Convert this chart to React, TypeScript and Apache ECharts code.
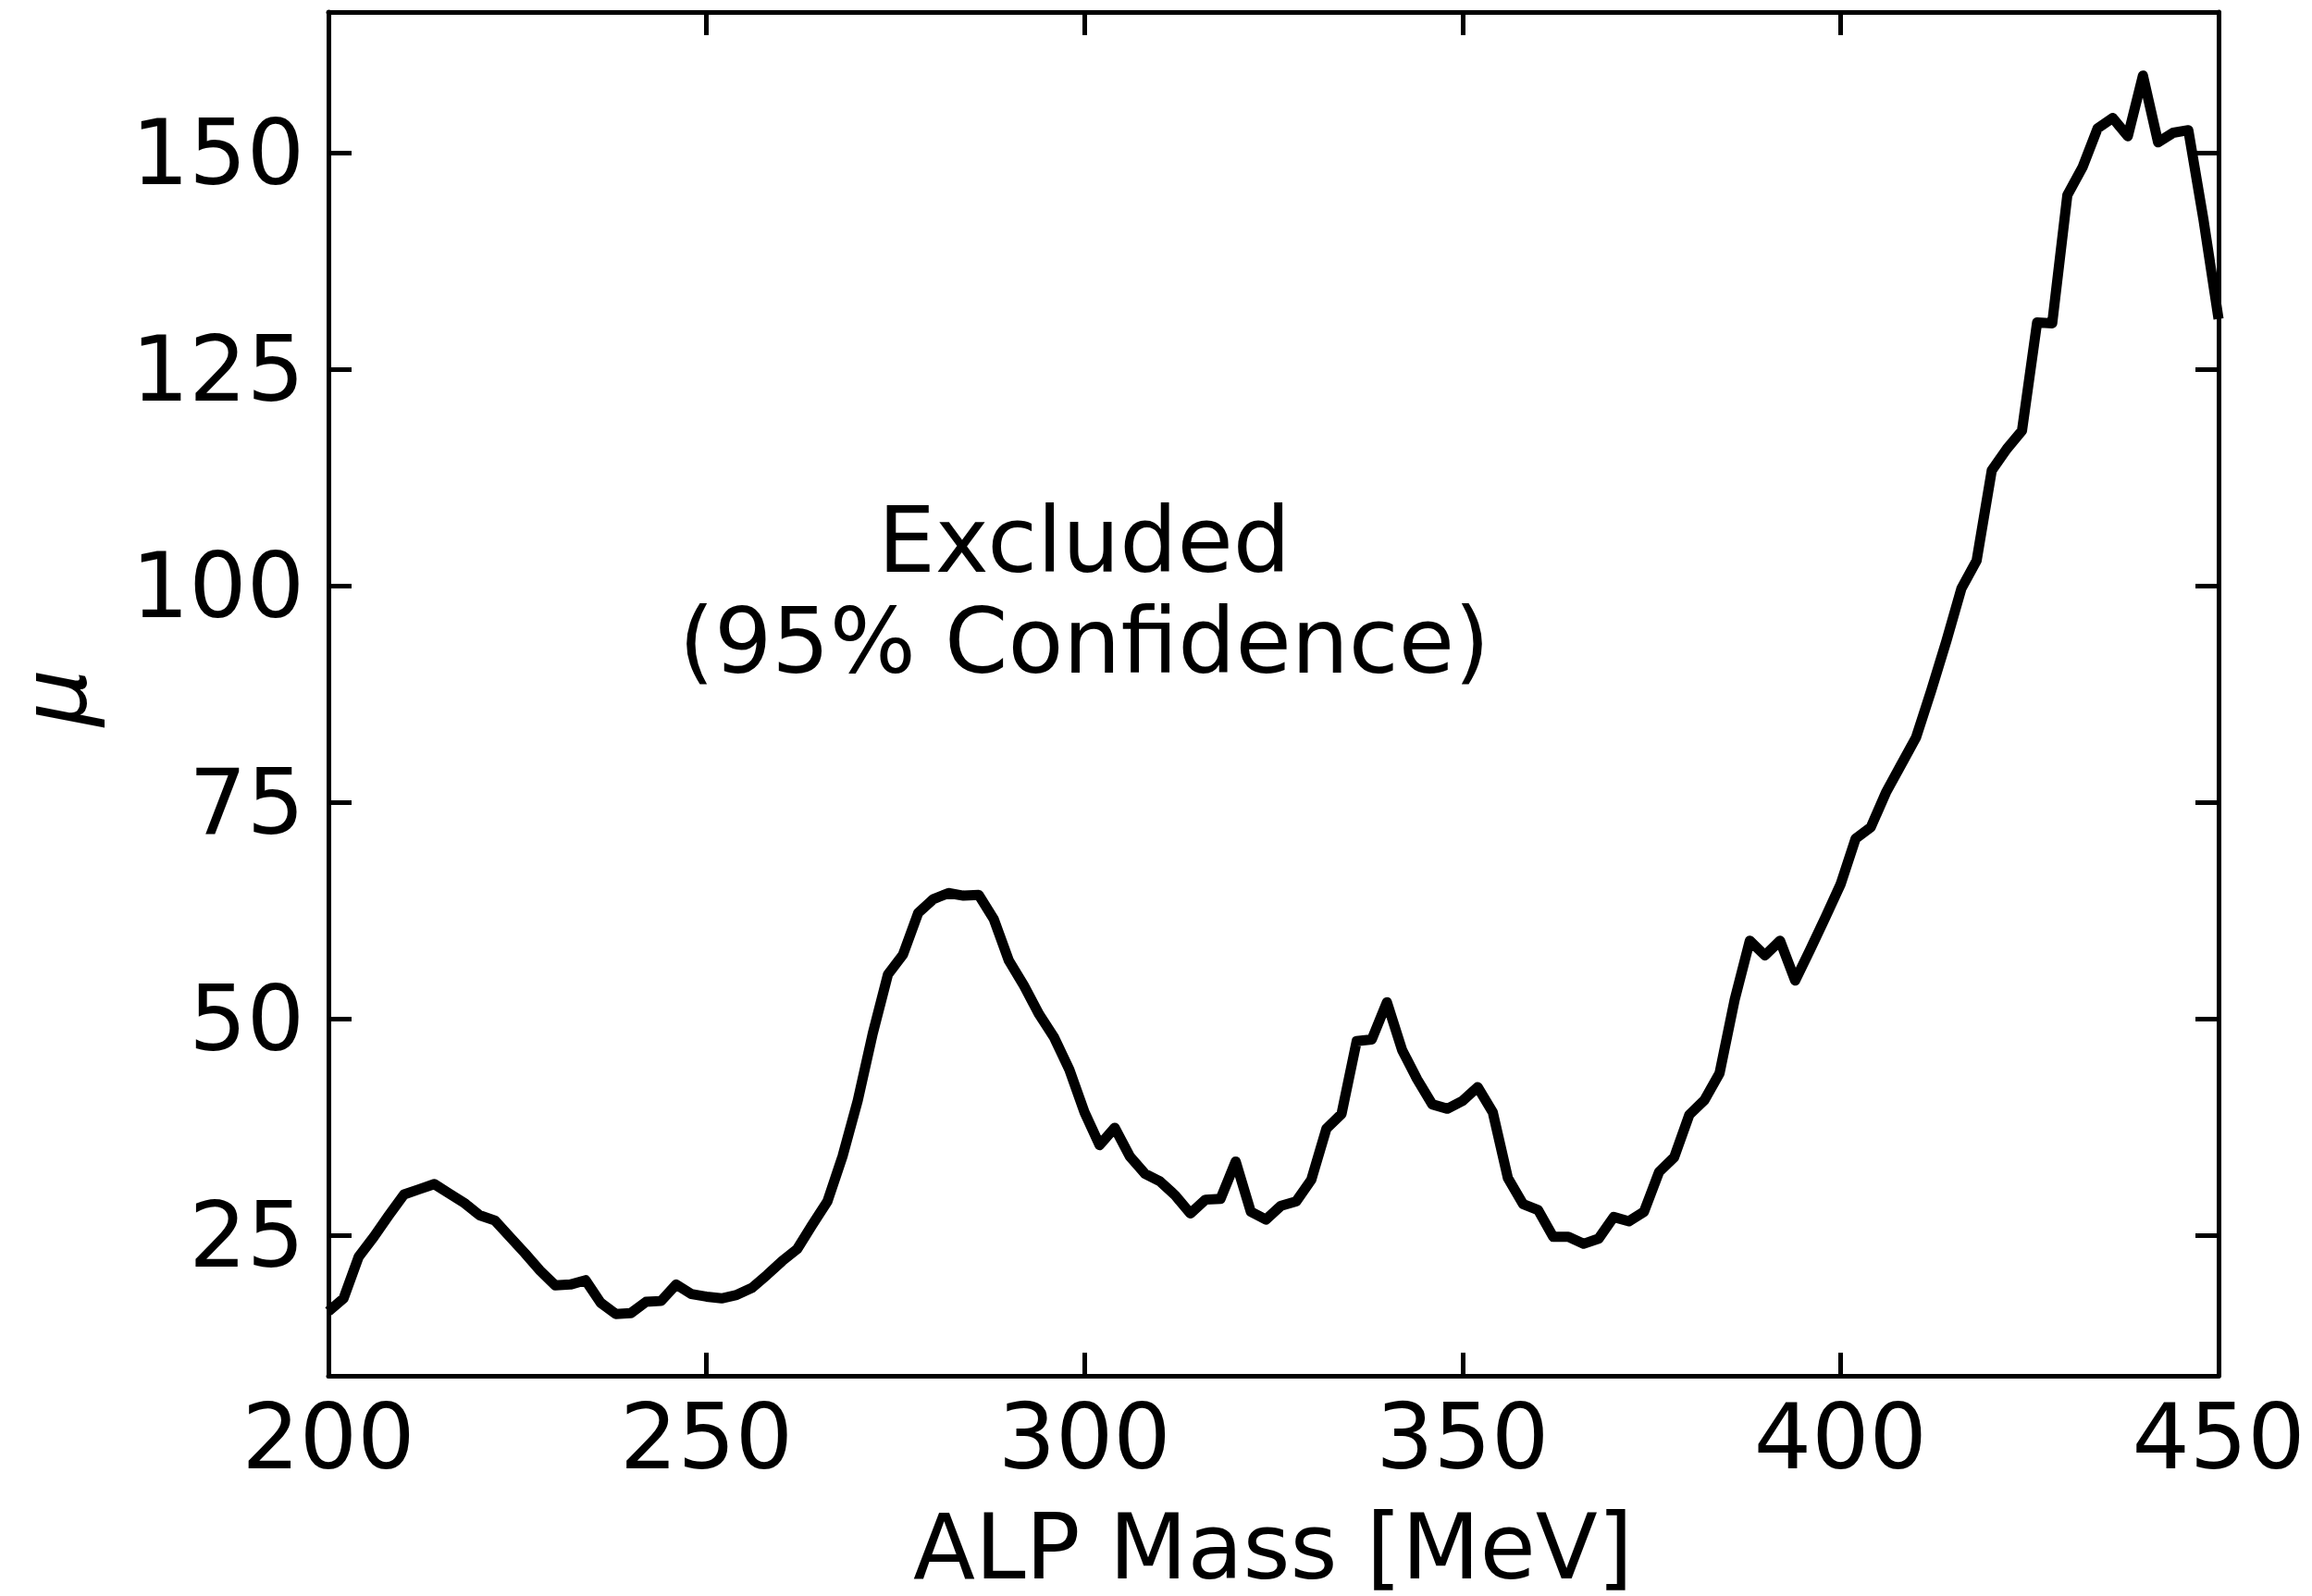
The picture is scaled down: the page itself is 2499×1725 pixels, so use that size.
import React, { useEffect, useRef } from "react";
import * as echarts from "echarts";

// ALP mass grid [MeV]
const massMeV = [
  200, 202, 204, 206, 208, 210, 212, 214, 216, 218,
  220, 222, 224, 226, 228, 230, 232, 234, 236, 238,
  240, 242, 244, 246, 248, 250, 252, 254, 256, 258,
  260, 262, 264, 266, 268, 270, 272, 274, 276, 278,
  280, 282, 284, 286, 288, 290, 292, 294, 296, 298,
  300, 302, 304, 306, 308, 310, 312, 314, 316, 318,
  320, 322, 324, 326, 328, 330, 332, 334, 336, 338,
  340, 342, 344, 346, 348, 350, 352, 354, 356, 358,
  360, 362, 364, 366, 368, 370, 372, 374, 376, 378,
  380, 382, 384, 386, 388, 390, 392, 394, 396, 398,
  400, 402, 404, 406, 408, 410, 412, 414, 416, 418,
  420, 422, 424, 426, 428, 430, 432, 434, 436, 438,
  440, 442, 444, 446, 448, 450,
];

// 95% CL upper limit on the signal strength mu
const muLimit = [
  16.2, 17.7, 22.5, 24.8, 27.3, 29.7, 30.3, 30.9, 29.8, 28.7,
  27.3, 26.7, 24.8, 22.9, 20.9, 19.2, 19.3, 19.8, 17.2, 15.9,
  16.0, 17.3, 17.4, 19.3, 18.2, 17.9, 17.7, 18.1, 18.9, 20.4,
  22.0, 23.4, 26.2, 28.9, 34.1, 40.5, 48.3, 55.1, 57.4, 62.2,
  63.8, 64.5, 64.2, 64.3, 61.5, 56.7, 53.8, 50.5, 47.8, 44.1,
  39.2, 35.4, 37.4, 34.1, 32.1, 31.2, 29.6, 27.5, 29.1, 29.2,
  33.5, 27.7, 26.8, 28.4, 28.9, 31.4, 37.3, 39.0, 47.4, 47.6,
  51.9, 46.4, 43.0, 40.1, 39.6, 40.5, 42.1, 39.2, 31.6, 28.6,
  27.9, 24.8, 24.8, 24.0, 24.6, 27.1, 26.6, 27.7, 32.3, 34.0,
  38.9, 40.6, 43.7, 52.2, 59.0, 57.3, 59.0, 54.4, 58.0, 61.7,
  65.5, 70.8, 72.1, 76.1, 79.3, 82.5, 87.9, 93.6, 99.7, 102.9,
  113.3, 115.8, 117.9, 130.4, 130.3, 145.1, 148.3, 152.8, 154.0, 151.9,
  158.9, 151.2, 152.3, 152.6, 142.3, 130.8,
];

const xRange = [200, 450];
const xStep = 50;
const yRange = [8.76, 166.24];
const yTicks = [25, 50, 75, 100, 125, 150];

const annotationLines = ["Excluded", "(95% Confidence)"];
const xTitle = "ALP Mass [MeV]";
const yTitle = "μ";

const FONT_FAMILY = '"DejaVu Sans", "Liberation Sans", sans-serif';
const FONT_SIZE = 98;
const INK = "#000000";

export default function App() {
  const ref = useRef<HTMLDivElement>(null);

  useEffect(() => {
    document.body.style.margin = "0";
    if (!ref.current) return;
    const chart = echarts.init(ref.current, null, { renderer: "svg" });

    const spine = { show: true, onZero: false, lineStyle: { color: INK, width: 5 } };
    const ticks = { show: true, inside: true, length: 25, lineStyle: { color: INK, width: 5 } };
    const labelFont = {
      fontSize: FONT_SIZE,
      fontFamily: FONT_FAMILY,
      color: INK,
      lineHeight: FONT_SIZE,
    };

    const seriesData = massMeV.map((m, i) => [m, muLimit[i]]);

    const textStyle = (text: string, italic = false) => ({
      text,
      font: `${italic ? "italic " : ""}${FONT_SIZE}px ${FONT_FAMILY}`,
      fill: INK,
      align: "center",
      verticalAlign: "middle",
      textAlign: "center",
      textVerticalAlign: "middle",
    });

    chart.setOption({
      animation: false,
      backgroundColor: "#ffffff",
      grid: {
        left: 355,
        top: 13,
        right: 101,
        bottom: 238,
        show: false,
      },
      xAxis: [
        {
          type: "value",
          position: "bottom",
          min: xRange[0],
          max: xRange[1],
          interval: xStep,
          axisLine: spine,
          axisTick: ticks,
          axisLabel: { ...labelFont, margin: 17, showMinLabel: true, showMaxLabel: true },
          splitLine: { show: false },
        },
        {
          type: "value",
          position: "top",
          min: xRange[0],
          max: xRange[1],
          interval: xStep,
          axisLine: spine,
          axisTick: ticks,
          axisLabel: { show: false },
          splitLine: { show: false },
        },
      ],
      yAxis: [
        {
          type: "value",
          position: "left",
          min: yRange[0],
          max: yRange[1],
          axisLine: spine,
          axisTick: { ...ticks, customValues: yTicks },
          axisLabel: { ...labelFont, margin: 26, customValues: yTicks },
          splitLine: { show: false },
        },
        {
          type: "value",
          position: "right",
          min: yRange[0],
          max: yRange[1],
          axisLine: spine,
          axisTick: { ...ticks, customValues: yTicks },
          axisLabel: { show: false },
          splitLine: { show: false },
        },
      ],
      series: [
        {
          type: "line",
          xAxisIndex: 0,
          yAxisIndex: 0,
          data: seriesData,
          showSymbol: false,
          symbol: "none",
          clip: true,
          lineStyle: { color: INK, width: 11, join: "round", cap: "butt" },
          z: 3,
        },
      ],
      graphic: [
        { type: "text", x: 1172, y: 584, style: textStyle(annotationLines[0]) },
        { type: "text", x: 1172, y: 693, style: textStyle(annotationLines[1]) },
        { type: "text", x: 1376, y: 1672, style: textStyle(xTitle) },
        { type: "text", x: 59, y: 754, rotation: Math.PI / 2, style: textStyle(yTitle, true) },
      ],
    });

    return () => chart.dispose();
  }, []);

  return (
    <div
      ref={ref}
      style={{
        position: "absolute",
        left: 0,
        top: 0,
        width: 2499,
        height: 1725,
        background: "#ffffff",
      }}
    />
  );
}
